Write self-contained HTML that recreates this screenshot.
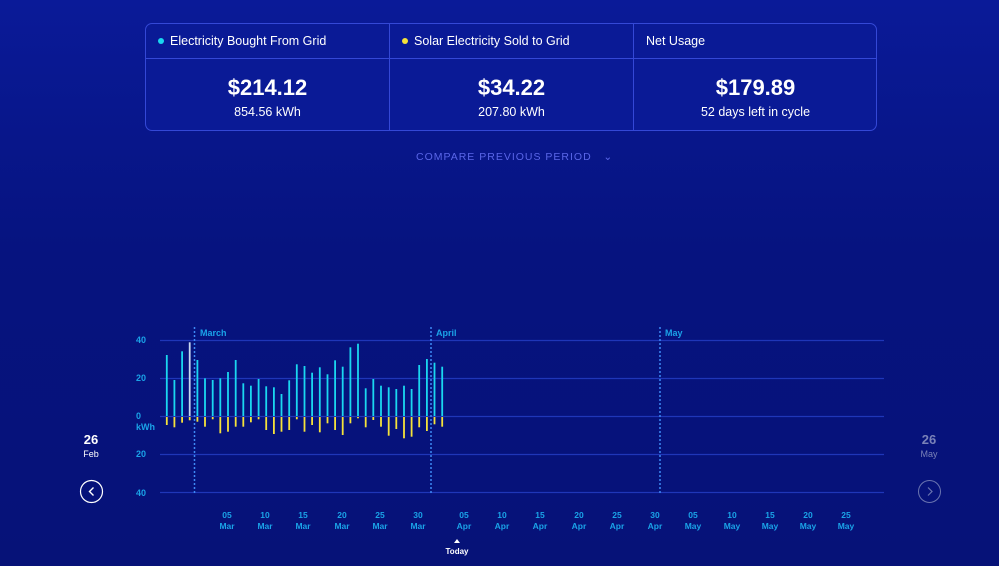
<!DOCTYPE html>
<html><head><meta charset="utf-8"><style>
html,body{margin:0;padding:0}
body{width:999px;height:566px;overflow:hidden;background:linear-gradient(180deg,#0a1a98 0%,#06137f 45%,#061278 100%);font-family:"Liberation Sans",sans-serif;position:relative;color:#fff}
.card{position:absolute;left:145px;top:23px;width:730px;height:106px;border:1px solid #3448d6;border-radius:7px;background:#0a1a96}
.col{position:absolute;top:0;height:106px;width:243px}
.col+.col{border-left:1px solid #3448d6}
.hd{height:34px;border-bottom:1px solid #3448d6;font-size:12.5px;line-height:34px;padding-left:12px;white-space:nowrap}
.dot{display:inline-block;width:6px;height:6px;border-radius:3px;margin-right:6px;vertical-align:1px}
.big{text-align:center;font-size:22px;font-weight:bold;margin-top:16px}
.sm{text-align:center;font-size:12.5px;margin-top:4px}
.cmp{position:absolute;left:416px;top:151px;font-size:10.5px;letter-spacing:1px;color:#5a66e8}
</style></head><body>
<div class="card">
<div class="col" style="left:0"><div class="hd"><span class="dot" style="background:#1ad7f0"></span>Electricity Bought From Grid</div><div class="big">$214.12</div><div class="sm">854.56 kWh</div></div>
<div class="col" style="left:243px"><div class="hd"><span class="dot" style="background:#f5e23a"></span>Solar Electricity Sold to Grid</div><div class="big">$34.22</div><div class="sm">207.80 kWh</div></div>
<div class="col" style="left:487px;width:243px"><div class="hd">Net Usage</div><div class="big">$179.89</div><div class="sm">52 days left in cycle</div></div>
</div>
<div class="cmp">COMPARE PREVIOUS PERIOD &nbsp;&nbsp;⌄</div>
<svg id="c" width="999" height="566" style="position:absolute;left:0;top:0" font-family="Liberation Sans, sans-serif">
<g stroke="#1f36b8" stroke-width="1.2">
<line x1="160" x2="884" y1="340.5" y2="340.5"/><line x1="160" x2="884" y1="378.5" y2="378.5"/><line x1="160" x2="884" y1="416.5" y2="416.5"/><line x1="160" x2="884" y1="454.5" y2="454.5"/><line x1="160" x2="884" y1="492.5" y2="492.5"/>
</g>
<g fill="#1aa3e8" font-size="9" font-weight="bold">
<text x="136" y="343">40</text><text x="136" y="381">20</text><text x="136" y="419">0</text><text x="136" y="430">kWh</text><text x="136" y="457">20</text><text x="136" y="496">40</text>
</g>
<g stroke="#3d8af5" stroke-width="1.5" stroke-dasharray="2,2">
<line x1="194.5" x2="194.5" y1="327" y2="493"/><line x1="431" x2="431" y1="327" y2="493"/><line x1="660" x2="660" y1="327" y2="493"/>
</g>
<g fill="#1aa3e8" font-size="9" font-weight="bold">
<text x="200" y="336">March</text><text x="436" y="336">April</text><text x="665" y="336">May</text>
</g>
<g id="bars"></g>
<g id="xl" fill="#1aa3e8" font-size="8.5" font-weight="bold" text-anchor="middle"></g>
<text x="91" y="444" text-anchor="middle" font-size="13" font-weight="bold" fill="#fff">26</text>
<text x="91" y="457" text-anchor="middle" font-size="9" fill="#fff">Feb</text>
<circle cx="91.5" cy="491.5" r="11" fill="none" stroke="#fff" stroke-width="1.2"/>
<path d="M93.5 487.5 L89.5 491.5 L93.5 495.5" fill="none" stroke="#fff" stroke-width="1.4"/>
<text x="929" y="444" text-anchor="middle" font-size="13" font-weight="bold" fill="#7a82b8">26</text>
<text x="929" y="457" text-anchor="middle" font-size="9" fill="#7a82b8">May</text>
<circle cx="929.5" cy="491.5" r="11" fill="none" stroke="#6a74b0" stroke-width="1"/>
<path d="M928 487.5 L932 491.5 L928 495.5" fill="none" stroke="#6a74b0" stroke-width="1.2"/>
<path d="M454 543 L457 539 L460 543 Z" fill="#fff"/>
<text x="457" y="554" text-anchor="middle" font-size="8" font-weight="bold" fill="#fff">Today</text>
</svg>
<script>
var tops=[105,180,94,67,120,175,180,175,156,120,190,197,177,199,202,222,181,133,138,158,142,163,121,140,82,71,205,177,197,202,207,197,207,135,117,128,140];
var bots=[315,322,308,301,305,320,298,340,335,320,320,307,298,330,342,335,330,298,335,315,337,310,330,345,310,295,322,300,320,347,327,355,350,322,333,313,320];
var s='';
for(var i=0;i<tops.length;i++){var x=166.7+i*7.65-0.8;var t=320+tops[i]/3,b=320+bots[i]/3;
s+='<rect x="'+x.toFixed(1)+'" y="'+t.toFixed(1)+'" width="1.8" height="'+(416-t).toFixed(1)+'" fill="'+(i==3?'#c8d8f0':'#1ad7f0')+'"/>';
s+='<rect x="'+x.toFixed(1)+'" y="417" width="1.8" height="'+(b-417).toFixed(1)+'" fill="#f5e23a"/>';}
document.getElementById('bars').innerHTML=s;
var xs=[227,265,303,342,380,418,464,502,540,579,617,655,693,732,770,808,846];
var d=['05','10','15','20','25','30','05','10','15','20','25','30','05','10','15','20','25'];
var m=['Mar','Mar','Mar','Mar','Mar','Mar','Apr','Apr','Apr','Apr','Apr','Apr','May','May','May','May','May'];
var h='';for(var j=0;j<xs.length;j++){h+='<text x="'+xs[j]+'" y="518">'+d[j]+'</text><text x="'+xs[j]+'" y="529">'+m[j]+'</text>';}
document.getElementById('xl').innerHTML=h;
</script>
</body></html>
